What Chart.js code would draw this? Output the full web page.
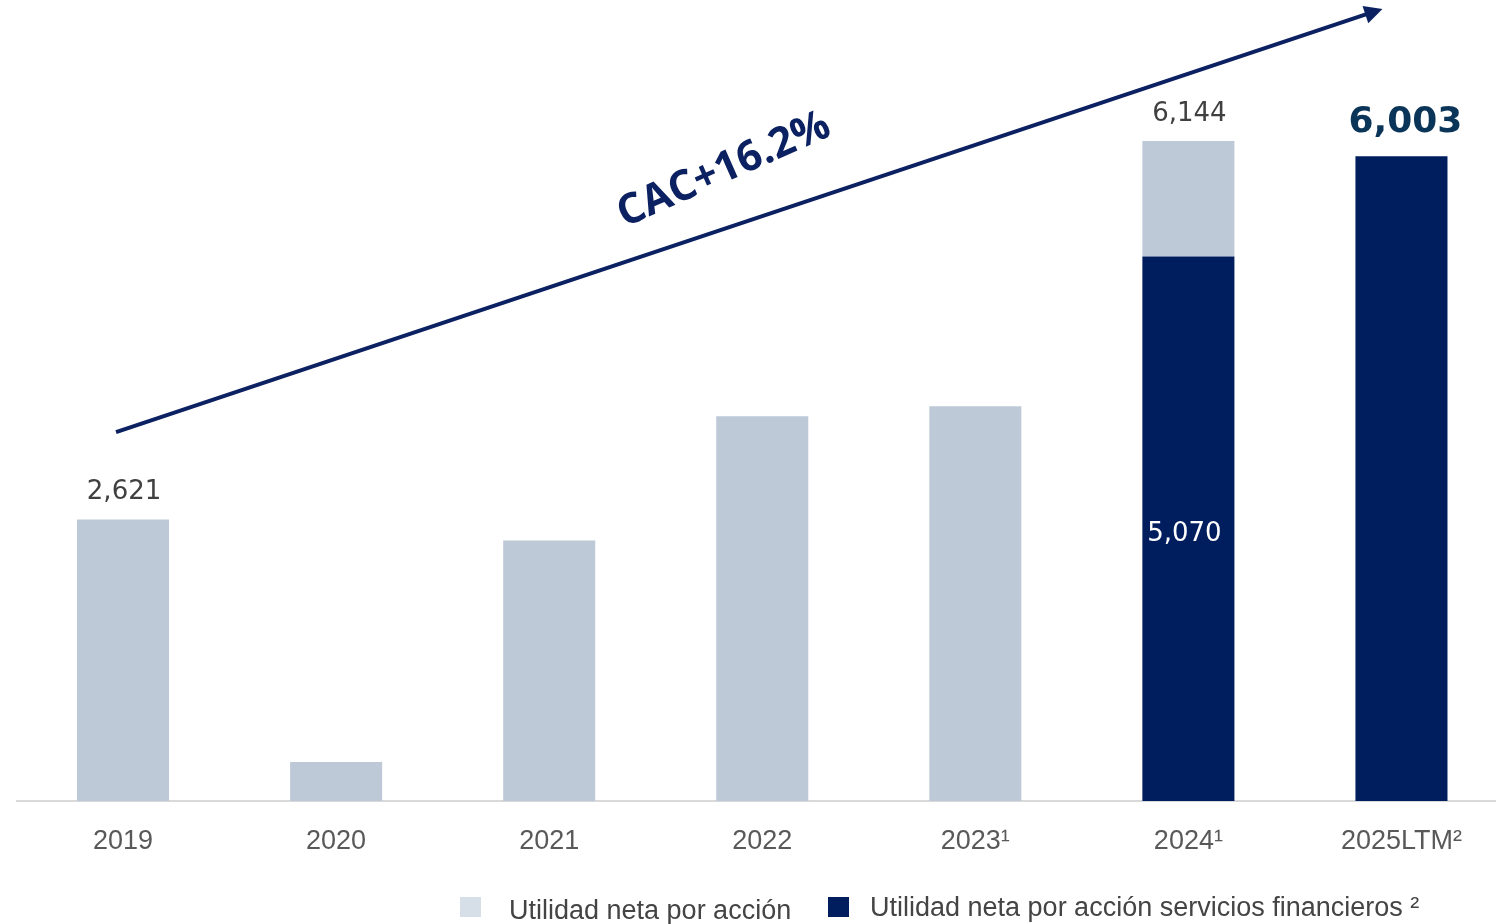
<!DOCTYPE html>
<html>
<head>
<meta charset="utf-8">
<script src="https://cdn.jsdelivr.net/npm/chart.js@4.4.1/dist/chart.umd.min.js"></script>
<style>
  html, body { margin: 0; padding: 0; background: #fff; overflow: hidden; }
  #wrap { width: 1508px; height: 924px; }
</style>
</head>
<body>
<div id="wrap"><canvas id="chart" width="1508" height="924"></canvas></div>
<script>
// Datos del gráfico
const years = ['2019', '2020', '2021', '2022', '2023\u00B9', '2024\u00B9', '2025LTM\u00B2'];
// utilidad neta por acción (parte clara; en 2024 es la diferencia 6,144 - 5,070)
const utilidadNeta = [2621, 364, 2425, 3583, 3676, 1074, null];
// utilidad neta por acción servicios financieros (parte oscura)
const utilidadServFin = [null, null, null, null, null, 5070, 6003];
// barras con total rotulado arriba
const totalLabelIdx = [0, 5];
const boldLabelIdx = [6];
// barra con valor interno
const innerLabelIdx = [5];

const legendNames = ['Utilidad neta por acción', 'Utilidad neta por acción servicios financieros \u00B2'];
const growthText = 'CAC+16.2%';

const LIGHT = '#BEC9D8';
const DARK = '#001E5E';

function fmt(v) {
    return v.toLocaleString('en-US');
}

function totalAt(i) {
    return (utilidadNeta[i] || 0) + (utilidadServFin[i] || 0);
}

// Rótulos de valores
const valueLabels = {
    id: 'valueLabels',
    afterDatasetsDraw(chart) {
        const ctx = chart.ctx;
        const x = chart.scales.x, y = chart.scales.y;
        ctx.save();
        ctx.textAlign = 'center';
        ctx.textBaseline = 'middle';

        ctx.font = '26px "DejaVu Sans"';
        ctx.fillStyle = '#404040';
        totalLabelIdx.forEach(i => {
            ctx.fillText(fmt(totalAt(i)), x.getPixelForValue(i) + 1, y.getPixelForValue(totalAt(i)) - 27);
        });

        ctx.font = 'bold 36px "DejaVu Sans"';
        ctx.fillStyle = '#0B3558';
        boldLabelIdx.forEach(i => {
            ctx.fillText(fmt(totalAt(i)), x.getPixelForValue(i) + 4, y.getPixelForValue(totalAt(i)) - 34);
        });

        ctx.font = '26px "DejaVu Sans"';
        ctx.fillStyle = '#ffffff';
        innerLabelIdx.forEach(i => {
            const v = utilidadServFin[i];
            ctx.fillText(fmt(v), x.getPixelForValue(i) - 4, y.getPixelForValue(v / 2) + 6);
        });
        ctx.restore();
    }
};

// Flecha de crecimiento y texto CAC
const growthArrow = {
    id: 'growthArrow',
    afterDatasetsDraw(chart) {
        const ctx = chart.ctx;
        const x = chart.scales.x, y = chart.scales.y;
        const x0 = x.getPixelForValue(0) - 7, y0 = y.getPixelForValue(3435);
        const x1 = x.getPixelForValue(6) - 19, y1 = y.getPixelForValue(7374);
        const ang = Math.atan2(y1 - y0, x1 - x0);
        ctx.save();
        ctx.strokeStyle = '#0B2161';
        ctx.fillStyle = '#0B2161';
        ctx.lineWidth = 4;
        ctx.beginPath();
        ctx.moveTo(x0, y0);
        ctx.lineTo(x1 - 12 * Math.cos(ang), y1 - 12 * Math.sin(ang));
        ctx.stroke();
        // punta
        ctx.translate(x1, y1);
        ctx.rotate(ang);
        ctx.beginPath();
        ctx.moveTo(0, 0);
        ctx.lineTo(-18, -9);
        ctx.lineTo(-18, 9);
        ctx.closePath();
        ctx.fill();
        ctx.restore();

        ctx.save();
        ctx.translate(724, 170);
        ctx.rotate(-24 * Math.PI / 180);
        ctx.font = 'bold 42px "Open Sans"';
        ctx.fillStyle = '#0B2161';
        ctx.textAlign = 'center';
        ctx.textBaseline = 'middle';
        ctx.fillText(growthText, 0, 0);
        ctx.restore();
    }
};

// Leyenda propia
const customLegend = {
    id: 'customLegend',
    afterDraw(chart) {
        const ctx = chart.ctx;
        ctx.save();
        ctx.textBaseline = 'middle';
        ctx.font = '27px "Liberation Sans"';
        ctx.fillStyle = '#D6DEE8';
        ctx.fillRect(460, 897, 21, 20);
        ctx.fillStyle = '#444444';
        ctx.fillText(legendNames[0], 509, 912);

        ctx.fillStyle = DARK;
        ctx.fillRect(828, 897, 21, 20);
        ctx.fillStyle = '#444444';
        ctx.fillText(legendNames[1], 870, 909);
        ctx.restore();
    }
};

new Chart(document.getElementById('chart'), {
    type: 'bar',
    data: {
        labels: years,
        datasets: [
            {
                label: legendNames[1],
                data: utilidadServFin,
                backgroundColor: DARK,
                barPercentage: 0.432,
                categoryPercentage: 1
            },
            {
                label: legendNames[0],
                data: utilidadNeta,
                backgroundColor: LIGHT,
                barPercentage: 0.432,
                categoryPercentage: 1
            }
        ]
    },
    options: {
        responsive: false,
        animation: false,
        layout: { padding: { left: 16.5, right: 0, top: 0, bottom: 0 } },
        plugins: {
            legend: { display: false },
            tooltip: { enabled: false }
        },
        scales: {
            x: {
                stacked: true,
                grid: { display: false },
                border: { display: true, color: '#D9D9D9', width: 2 },
                ticks: {
                    color: '#595959',
                    font: { family: '"Liberation Sans"', size: 27 },
                    padding: 16,
                    maxRotation: 0
                },
                afterFit(scale) { scale.height = 123; }
            },
            y: {
                stacked: true,
                display: false,
                min: 0,
                max: 7457
            }
        }
    },
    plugins: [valueLabels, growthArrow, customLegend]
});
</script>
</body>
</html>
